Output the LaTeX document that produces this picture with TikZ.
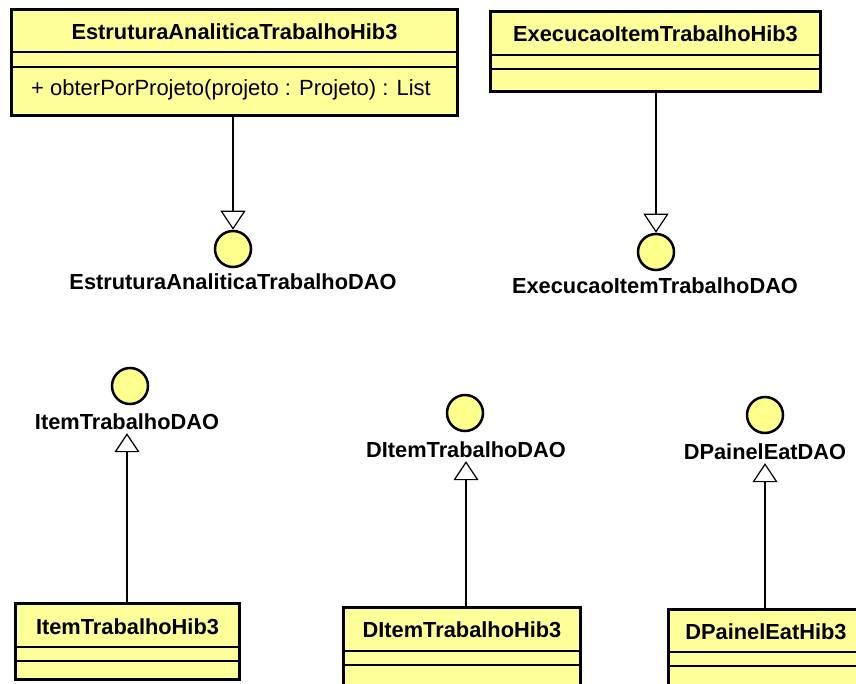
\documentclass[tikz,border=0pt]{standalone}
\usepackage{fontspec}
\setmainfont{Liberation Sans}
\usetikzlibrary{arrows.meta,calc}
\definecolor{classfill}{HTML}{FFFF99}
\definecolor{ifacefill}{HTML}{FFFF8C}
\begin{document}
\begin{tikzpicture}[x=1pt,y=-1pt,
  classbox/.style={draw=black, line width=3pt, fill=classfill, rectangle,
    inner sep=0pt, anchor=north west},
  divider/.style={draw=black, line width=1.5pt},
  classname/.style={font=\bfseries\fontsize{21.8}{24}\selectfont, inner sep=0pt},
  member/.style={font=\fontsize{22}{24}\selectfont, inner sep=0pt, anchor=west},
  iface/.style={circle, draw=black, line width=2.5pt, fill=ifacefill,
    minimum size=36pt, inner sep=0pt},
  ifacelabel/.style={font=\bfseries\fontsize{21.8}{24}\selectfont, inner sep=0pt,
    text height=15pt, text depth=4pt, anchor=base},
  realize/.style={draw=black, line width=1.2pt,
    -{Triangle[open, length=19pt, width=25pt, fill=white]}}
]
\useasboundingbox (0,0) rectangle (856,684);
\clip (0,0) rectangle (856,684);

% --- top row: classes with their interfaces below ---
\node[classbox, minimum width=446pt, minimum height=106pt] (eth) at (10,8) {};
\draw[divider] ($(eth.north west)+(0,44)$) -- ($(eth.north east)+(0,44)$);
\draw[divider] ($(eth.north west)+(0,59)$) -- ($(eth.north east)+(0,59)$);
\node[classname] (ethname) at ($(eth.north)+(0,24)$) {EstruturaAnaliticaTrabalhoHib3};
\node[member] (ethop) at ($(eth.north west)+(21,82)$) {+ obterPorProjeto(projeto : Projeto) : List};

\node[classbox, minimum width=330pt, minimum height=80pt] (eit) at (489,10) {};
\draw[divider] ($(eit.north west)+(0,45)$) -- ($(eit.north east)+(0,45)$);
\draw[divider] ($(eit.north west)+(0,59)$) -- ($(eit.north east)+(0,59)$);
\node[classname] (eitname) at ($(eit.north)+(0,24)$) {ExecucaoItemTrabalhoHib3};

\node[iface] (etdao) at (233,249) {};
\node[ifacelabel] (etdaol) at (233,290) {EstruturaAnaliticaTrabalhoDAO};
\node[iface] (eitdao) at (656,252) {};
\node[ifacelabel] (eitdaol) at (655,294) {ExecucaoItemTrabalhoDAO};

\draw[realize] (eth.south -| etdao.north) -- (etdao.north);
\draw[realize] (eit.south -| eitdao.north) -- (eitdao.north);

% --- bottom row: interfaces with implementing classes below ---
\node[iface] (itdao) at (130,386) {};
\node[ifacelabel] (itdaol) at (127,429) {ItemTrabalhoDAO};
\node[iface] (ditdao) at (465,413) {};
\node[ifacelabel] (ditdaol) at (466,457) {DItemTrabalhoDAO};
\node[iface] (dpdao) at (765,415) {};
\node[ifacelabel] (dpdaol) at (765,459) {DPainelEatDAO};

\node[classbox, minimum width=224pt, minimum height=76pt] (ith) at (14,602) {};
\draw[divider] ($(ith.north west)+(0,45)$) -- ($(ith.north east)+(0,45)$);
\draw[divider] ($(ith.north west)+(0,59)$) -- ($(ith.north east)+(0,59)$);
\node[classname] (ithname) at ($(ith.north)+(0,25)$) {ItemTrabalhoHib3};

\node[classbox, minimum width=237pt, minimum height=100pt] (dith) at (342,606) {};
\draw[divider] ($(dith.north west)+(0,45)$) -- ($(dith.north east)+(0,45)$);
\draw[divider] ($(dith.north west)+(0,59)$) -- ($(dith.north east)+(0,59)$);
\node[classname] (dithname) at ($(dith.north)+(0,24)$) {DItemTrabalhoHib3};

\node[classbox, minimum width=220pt, minimum height=100pt] (dph) at (667,608) {};
\draw[divider] ($(dph.north west)+(0,44)$) -- ($(dph.north east)+(0,44)$);
\draw[divider] ($(dph.north west)+(0,58)$) -- ($(dph.north east)+(0,58)$);
\node[classname] (dphname) at (766,632) {DPainelEatHib3};

\draw[realize] (ith.north -| itdaol.south) -- (itdaol.south);
\draw[realize] (dith.north -| ditdaol.south) -- (ditdaol.south);
\draw[realize] (dph.north -| dpdaol.south) -- (dpdaol.south);
\end{tikzpicture}
\end{document}
